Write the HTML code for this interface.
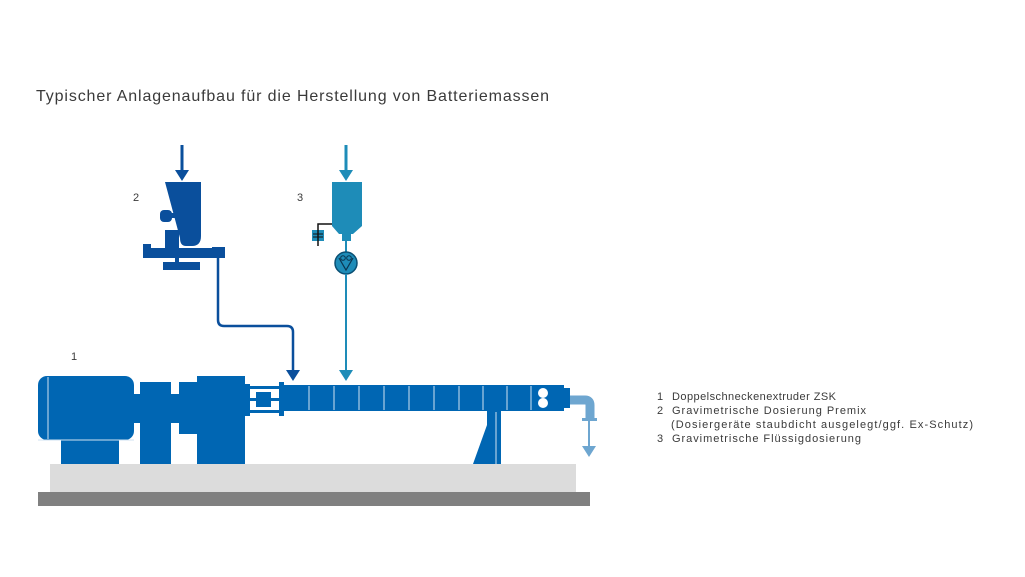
<!DOCTYPE html>
<html><head><meta charset="utf-8"><style>
body{margin:0;background:#fff;width:1025px;height:577px;overflow:hidden}
svg{display:block}
text{font-family:"Liberation Sans",sans-serif;fill:#3a3a3a}
</style></head><body>
<svg width="1025" height="577" viewBox="0 0 1025 577">
<text x="36" y="101" font-size="16" textLength="513" lengthAdjust="spacing">Typischer Anlagenaufbau für die Herstellung von Batteriemassen</text>
<text x="133" y="201" font-size="11">2</text>
<text x="297" y="201" font-size="11">3</text>
<text x="71" y="360" font-size="11">1</text>
<g font-size="11">
<text x="657" y="400">1</text><text x="672" y="400" textLength="164" lengthAdjust="spacing">Doppelschneckenextruder ZSK</text>
<text x="657" y="414">2</text><text x="672" y="414" textLength="194" lengthAdjust="spacing">Gravimetrische Dosierung Premix</text>
<text x="671" y="428" textLength="302" lengthAdjust="spacing">(Dosiergeräte staubdicht ausgelegt/ggf. Ex-Schutz)</text>
<text x="657" y="442">3</text><text x="672" y="442" textLength="189" lengthAdjust="spacing">Gravimetrische Flüssigdosierung</text>
</g>
<!-- base -->
<rect x="50" y="464" width="526" height="28" fill="#dcdcdc"/>
<rect x="38" y="492" width="552" height="14" fill="#808080"/>
<!-- extruder -->
<g fill="#0066b3">
<rect x="38" y="376" width="96" height="64" rx="9"/>
<rect x="61" y="440" width="58" height="24"/>
<rect x="134" y="394" width="6" height="29"/>
<rect x="140" y="382" width="31" height="82"/>
<rect x="171" y="394" width="8" height="29"/>
<rect x="179" y="382" width="18" height="52"/>
<rect x="197" y="376" width="48" height="88"/>
<rect x="245" y="384" width="5" height="32"/>
<rect x="250" y="386" width="30" height="3"/>
<rect x="250" y="410" width="30" height="3"/>
<rect x="250" y="398" width="30" height="3"/>
<rect x="256" y="392" width="15" height="15"/>
<rect x="279" y="382" width="5" height="34"/>
<rect x="284" y="385" width="280" height="26"/>
<rect x="564" y="388" width="6" height="20"/>
<rect x="487" y="411" width="14" height="53"/>
<polygon points="473,464 487,425 487,464"/>
</g>
<g stroke="#cfe1f1" stroke-width="1">
<line x1="48" y1="377" x2="48" y2="439"/>
<line x1="309" y1="386" x2="309" y2="410"/><line x1="334" y1="386" x2="334" y2="410"/>
<line x1="359" y1="386" x2="359" y2="410"/><line x1="384" y1="386" x2="384" y2="410"/>
<line x1="409" y1="386" x2="409" y2="410"/><line x1="434" y1="386" x2="434" y2="410"/>
<line x1="459" y1="386" x2="459" y2="410"/><line x1="483" y1="386" x2="483" y2="410"/>
<line x1="507" y1="386" x2="507" y2="410"/><line x1="531" y1="386" x2="531" y2="410"/>
<line x1="134" y1="440" x2="38" y2="440"/><line x1="496" y1="412" x2="496" y2="464"/>
</g>
<circle cx="543" cy="393" r="5" fill="#fff"/><circle cx="543" cy="403" r="5" fill="#fff"/>
<!-- output -->
<path d="M570 400 H585 Q590 400 590 405 V418" stroke="#6ea6d0" stroke-width="9" fill="none"/>
<rect x="582" y="418" width="15" height="3" fill="#6ea6d0"/>
<line x1="589" y1="421" x2="589" y2="448" stroke="#6ea6d0" stroke-width="2"/>
<polygon points="582,446 596,446 589,457" fill="#6ea6d0"/>
<!-- feeder 2 -->
<g fill="#0a4f9c">
<line x1="182" y1="145" x2="182" y2="172" stroke="#0a4f9c" stroke-width="3"/>
<polygon points="175,170 189,170 182,181"/>
<path d="M165 182 H201 V236 Q201 246 192 246 H186 Q180 246 180 238 Z"/>
<rect x="160" y="210" width="12" height="12" rx="4"/>
<rect x="170" y="213" width="8" height="5"/>
<rect x="165" y="230" width="14" height="20"/>
<rect x="143" y="244" width="8" height="14"/>
<rect x="143" y="248" width="70" height="10"/>
<rect x="212" y="247" width="13" height="11"/>
<rect x="163" y="262" width="37" height="8"/>
<rect x="175" y="256" width="4" height="8"/>
<path d="M218 258 V320 Q218 326 224 326 H287 Q293 326 293 332 V372" stroke="#0a4f9c" stroke-width="2.5" fill="none"/>
<polygon points="286,370 300,370 293,381"/>
</g>
<!-- feeder 3 -->
<g fill="#1e8cb8">
<line x1="346" y1="145" x2="346" y2="172" stroke="#1e8cb8" stroke-width="3"/>
<polygon points="339,170 353,170 346,181"/>
<polygon points="332,182 362,182 362,226 353,234 339,234 332,226"/>
<rect x="342" y="234" width="9" height="7"/>
<line x1="346" y1="241" x2="346" y2="252" stroke="#1e8cb8" stroke-width="2"/>
<circle cx="346" cy="263" r="11" stroke="#0a4f73" stroke-width="1.5"/>
<line x1="346" y1="274" x2="346" y2="372" stroke="#1e8cb8" stroke-width="2"/>
<polygon points="339,370 353,370 346,381"/>
<rect x="312" y="230" width="12" height="11"/>
</g>
<path d="M339 258 L346 270 L353 258" stroke="#0a3550" fill="none" stroke-width="1.2"/>
<circle cx="343" cy="258" r="2.3" fill="none" stroke="#0a3550"/><circle cx="349" cy="258" r="2.3" fill="none" stroke="#0a3550"/>
<path d="M332 224 H318 V246" stroke="#111" stroke-width="1.5" fill="none"/>
<line x1="313" y1="234" x2="323" y2="234" stroke="#111"/><line x1="313" y1="237" x2="323" y2="237" stroke="#111"/>
</svg>
</body></html>
